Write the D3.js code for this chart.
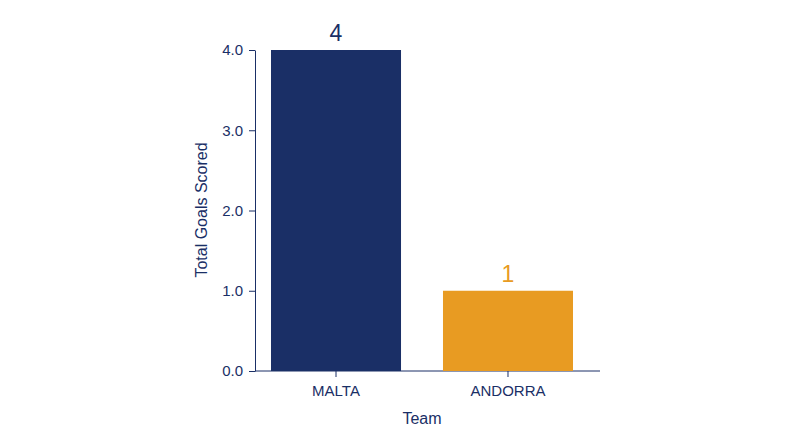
<!DOCTYPE html><html><head><meta charset="utf-8"><script src="https://cdn.jsdelivr.net/npm/d3@7"></script>
<style>body{margin:0;background:#fff}text{font-family:"Helvetica Neue",Arial,"Liberation Sans",sans-serif}</style></head><body><svg id="c" width="800" height="447"></svg><script>
const categories=["MALTA","ANDORRA"];
const values=[4,1];
const colors=["#1a2f66","#e89b22"];
const yTicks=[0,1,2,3,4];
const svg=d3.select("#c");
const ink="#1a2f66";
const y=d3.scaleLinear().domain([0,4]).range([371,50]);
const x=d3.scaleBand().domain(categories).range([255,589]).paddingInner(0.244).paddingOuter(0.093);
const ya=svg.append("g").attr("transform","translate(255,0)").call(d3.axisLeft(y).tickValues(yTicks).tickSize(6).tickSizeOuter(0));
ya.selectAll("text").attr("font-size",15).attr("fill",ink).attr("x",-12);
ya.selectAll("line,path").attr("stroke",ink);
const xa=svg.append("g").attr("transform","translate(0,371)").call(d3.axisBottom(x).tickSize(6).tickSizeOuter(0));
xa.select("path").attr("d","M255,0H600");
xa.selectAll("text").attr("font-size",15).attr("fill",ink).attr("dy","1.05em");
xa.selectAll("line,path").attr("stroke",ink);
svg.selectAll("rect.b").data(categories).enter().append("rect").attr("x",d=>x(d)).attr("width",x.bandwidth())
 .attr("y",(d,i)=>y(values[i])).attr("height",(d,i)=>y(0)-y(values[i])).attr("fill",(d,i)=>colors[i]);
svg.selectAll("text.v").data(categories).enter().append("text").attr("x",d=>x(d)+x.bandwidth()/2).attr("y",(d,i)=>y(values[i])-9)
 .attr("text-anchor","middle").attr("font-size",23).attr("fill",(d,i)=>colors[i]).text((d,i)=>values[i]);
svg.append("text").attr("x",422).attr("y",424).attr("text-anchor","middle").attr("font-size",16).attr("fill",ink).text("Team");
svg.append("text").attr("transform","translate(207,210) rotate(-90)").attr("text-anchor","middle").attr("font-size",16).attr("fill",ink).text("Total Goals Scored");
</script></body></html>
